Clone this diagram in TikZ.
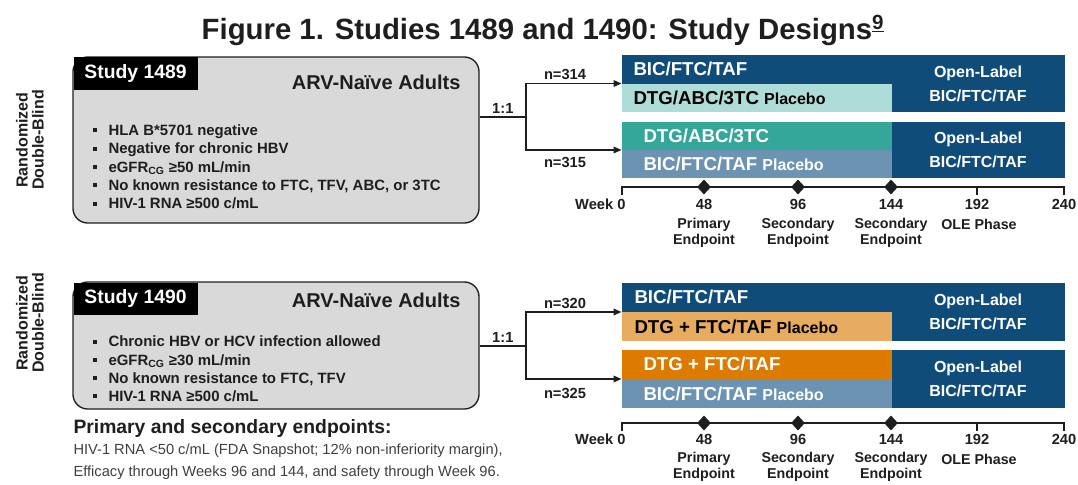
\documentclass[tikz,border=0pt]{standalone}
\usepackage{fontspec}
\setmainfont{Liberation Sans}
\usetikzlibrary{arrows.meta,shapes.geometric,fit}

\definecolor{studyblue}{RGB}{16,76,122}
\definecolor{paleteal}{RGB}{174,220,216}
\definecolor{armteal}{RGB}{53,166,154}
\definecolor{steelblue}{RGB}{108,148,178}
\definecolor{paleorange}{RGB}{232,172,96}
\definecolor{armorange}{RGB}{221,122,0}
\definecolor{boxgray}{RGB}{217,217,217}
\definecolor{inkgray}{RGB}{30,30,30}

\newcommand{\critbul}{\makebox[12pt][l]{\rule[0.22em]{3pt}{3pt}}}

\tikzset{every picture/.style={line width=0.75pt}}
\tikzset{
  studybox/.style={draw=inkgray, line width=1pt, fill=boxgray, rounded corners=11pt, inner sep=0pt},
  studytag/.style={anchor=north west, fill=black, text=white, inner sep=0pt, minimum width=93pt, minimum height=24.5pt, font=\fontsize{14.5}{16}\selectfont\bfseries},
  poptext/.style={inner sep=0pt, text=inkgray, font=\fontsize{15}{17}\selectfont\bfseries},
  crittext/.style={anchor=west, align=left, inner sep=0pt, text=inkgray, font=\fontsize{11.2}{13.7}\selectfont\bfseries},
  sidetext/.style={rotate=90, align=center, inner sep=0pt, text=inkgray, font=\fontsize{12}{12}\selectfont\bfseries},
  armbox/.style={inner sep=0pt, draw=none},
  armtext/.style={anchor=west, inner sep=0pt, font=\fontsize{14}{16}\selectfont\bfseries},
  oltext/.style={align=center, text=white, inner sep=0pt, font=\fontsize{12}{18}\selectfont\bfseries},
  link/.style={draw=inkgray, line width=0.9pt},
  tolink/.style={link, -{Triangle[length=6pt,width=5pt]}},
  ntext/.style={inner sep=0pt, text=inkgray, font=\fontsize{11}{12}\selectfont\bfseries},
  axisline/.style={draw=inkgray, line width=0.9pt},
  endpoint/.style={diamond, fill=inkgray, inner sep=0pt, minimum width=10.5pt, minimum height=11.5pt},
  wklabel/.style={inner sep=0pt, text=inkgray, font=\fontsize{11}{12}\selectfont\bfseries},
  eplabel/.style={align=center, inner sep=0pt, text=inkgray, font=\fontsize{10.7}{12}\selectfont\bfseries}
}

\begin{document}
\begin{tikzpicture}[x=0.75pt,y=0.75pt,yscale=-1,xscale=1]
\useasboundingbox (0,0) rectangle (1078,485);

% Title
\node (title) [text=inkgray, font=\fontsize{22}{24}\selectfont\bfseries] at (543,30) {Figure 1. Studies 1489 and 1490: Study Designs\textsuperscript{\underline{9}}};

%%%%%%%% Study 1489 %%%%%%%%
% Text Node
\node (rand1) [sidetext] at (30,140) {Randomized\\Double-Blind};
%Shape: Rounded Rectangle
\node (box1) [studybox, fit={(73,57) (479,223)}] {};
\node (tag1) [studytag] at (73,57) {Study 1489};
\node (pop1) [poptext, anchor=east] at (461,82) {ARV-Naïve Adults};
\node (crit1) [crittext] at (92,167) {\critbul HLA B*5701 negative\\
  \critbul Negative for chronic HBV\\
  \critbul eGFR\textsubscript{CG} ≥50 mL/min\\
  \critbul No known resistance to FTC, TFV, ABC, or 3TC\\
  \critbul HIV-1 RNA ≥500 c/mL};

%Straight Lines: randomisation
\coordinate (fork1) at (526,117);
\draw [link] (fork1 -| box1.east) -- node [above=2pt, ntext] {1:1} (fork1);

%Shape: Rectangle -- arm A
\node (armA) [armbox, fill=studyblue, fit={(622,55) (1065,112)}] {};
\node (armAp) [armbox, fill=paleteal, fit={(622,84) (892,112)}] {};
\node (armAtx) [armtext, text=white] at (633,69) {BIC/FTC/TAF};
\node (armAptx) [armtext, text=black] at (633,98) {DTG/ABC/3TC {\fontsize{12}{13}\selectfont Placebo}};
\node (armAol) [oltext] at (978,84) {Open-Label\\BIC/FTC/TAF};
%Shape: Rectangle -- arm B
\node (armB) [armbox, fill=studyblue, fit={(622,122) (1065,178)}] {};
\node (armBa) [armbox, fill=armteal, fit={(622,122) (892,150)}] {};
\node (armBp) [armbox, fill=steelblue, fit={(622,150) (892,178)}] {};
\node (armBatx) [armtext, text=white] at (643,136) {DTG/ABC/3TC};
\node (armBptx) [armtext, text=white] at (643,164) {BIC/FTC/TAF {\fontsize{12}{13}\selectfont Placebo}};
\node (armBol) [oltext] at (978,150) {Open-Label\\BIC/FTC/TAF};

\draw [tolink] (fork1) |- (armA.west);
\draw [tolink] (fork1) |- (armB.west);
\node (nA) [ntext] at (565,74) {n=314};
\node (nB) [ntext] at (565,162) {n=315};

%Straight Lines: timeline
\draw [axisline] (622,195) -- (622,187) -- (1064,187) -- (1064,195);
\draw [axisline] (977,187) -- (977,195);
\node (epA48) [endpoint] at (704,187) {};
\node (epA96) [endpoint] at (798,187) {};
\node (epA144) [endpoint] at (891,187) {};
% Text Node
\node (wkA0) [wklabel, anchor=east] at (626,204) {Week 0};
\node (wkA48) [wklabel] at (704,204) {48};
\node (wkA96) [wklabel] at (798,204) {96};
\node (wkA144) [wklabel] at (891,204) {144};
\node (wkA192) [wklabel] at (977,204) {192};
\node (wkA240) [wklabel] at (1064,204) {240};
\node (lblA48) [eplabel] at (704,233) {Primary\\Endpoint};
\node (lblA96) [eplabel] at (798,233) {Secondary\\Endpoint};
\node (lblA144) [eplabel] at (891,233) {Secondary\\Endpoint};
\node (lblA192) [eplabel] at (979,224) {OLE Phase};

%%%%%%%% Study 1490 %%%%%%%%
% Text Node
\node (rand2) [sidetext] at (30,323) {Randomized\\Double-Blind};
%Shape: Rounded Rectangle
\node (box2) [studybox, fit={(73,282) (479,409)}] {};
\node (tag2) [studytag, minimum height=24pt] at (73,282) {Study 1490};
\node (pop2) [poptext, anchor=east] at (461,300) {ARV-Naïve Adults};
\node (crit2) [crittext] at (92,369) {\critbul Chronic HBV or HCV infection allowed\\
  \critbul eGFR\textsubscript{CG} ≥30 mL/min\\
  \critbul No known resistance to FTC, TFV\\
  \critbul HIV-1 RNA ≥500 c/mL};

%Straight Lines: randomisation
\coordinate (fork2) at (526,346);
\draw [link, line width=1.4pt] (fork2 -| box2.east) -- node [above=2pt, ntext] {1:1} (fork2);

%Shape: Rectangle -- arm C
\node (armC) [armbox, fill=studyblue, fit={(622,283) (1065,341)}] {};
\node (armCp) [armbox, fill=paleorange, fit={(622,312) (892,341)}] {};
\node (armCtx) [armtext, text=white] at (634,297) {BIC/FTC/TAF};
\node (armCptx) [armtext, text=black] at (634,327) {DTG + FTC/TAF {\fontsize{12}{13}\selectfont Placebo}};
\node (armCol) [oltext] at (978,312) {Open-Label\\BIC/FTC/TAF};
%Shape: Rectangle -- arm D
\node (armD) [armbox, fill=studyblue, fit={(622,350) (1065,408)}] {};
\node (armDa) [armbox, fill=armorange, fit={(622,350) (892,379)}] {};
\node (armDp) [armbox, fill=steelblue, fit={(622,379) (892,408)}] {};
\node (armDatx) [armtext, text=white] at (643,364) {DTG + FTC/TAF};
\node (armDptx) [armtext, text=white] at (643,394) {BIC/FTC/TAF {\fontsize{12}{13}\selectfont Placebo}};
\node (armDol) [oltext] at (978,379) {Open-Label\\BIC/FTC/TAF};

\draw [tolink] (fork2) |- (armC.west);
\draw [tolink] (fork2) |- (armD.west);
\node (nC) [ntext] at (565,303) {n=320};
\node (nD) [ntext] at (565,393) {n=325};

%Straight Lines: timeline
\draw [axisline] (622,431) -- (622,423) -- (1064,423) -- (1064,431);
\draw [axisline] (977,423) -- (977,431);
\node (epC48) [endpoint] at (704,423) {};
\node (epC96) [endpoint] at (798,423) {};
\node (epC144) [endpoint] at (891,423) {};
% Text Node
\node (wkC0) [wklabel, anchor=east] at (626,439) {Week 0};
\node (wkC48) [wklabel] at (704,439) {48};
\node (wkC96) [wklabel] at (798,439) {96};
\node (wkC144) [wklabel] at (891,439) {144};
\node (wkC192) [wklabel] at (977,439) {192};
\node (wkC240) [wklabel] at (1064,439) {240};
\node (lblC48) [eplabel] at (704,467) {Primary\\Endpoint};
\node (lblC96) [eplabel] at (798,467) {Secondary\\Endpoint};
\node (lblC144) [eplabel] at (891,467) {Secondary\\Endpoint};
\node (lblC192) [eplabel] at (979,459) {OLE Phase};

% Text Node: endpoints
\node (ephead) [anchor=west, inner sep=0pt, text=inkgray, font=\fontsize{14.5}{16}\selectfont\bfseries] at (73,428) {Primary and secondary endpoints:};
\node (epline1) [anchor=west, inner sep=0pt, text=inkgray!85, font=\fontsize{11}{13}\selectfont] at (73,451) {HIV-1 RNA <50 c/mL (FDA Snapshot; 12\% non-inferiority margin),};
\node (epline2) [anchor=west, inner sep=0pt, text=inkgray!85, font=\fontsize{11}{13}\selectfont] at (73,473) {Efficacy through Weeks 96 and 144, and safety through Week 96.};
\end{tikzpicture}
\end{document}
